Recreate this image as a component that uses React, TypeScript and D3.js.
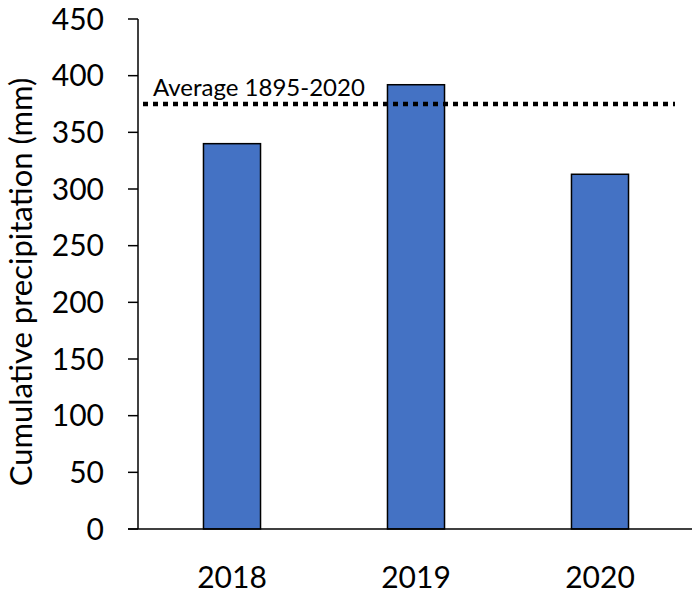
import React from 'react';
import * as d3 from 'd3';

const years = ['2018', '2019', '2020'];
const precip = [340, 392, 313];
const average = 375;
const averageLabel = 'Average 1895-2020';
const yTicks = [0, 50, 100, 150, 200, 250, 300, 350, 400, 450];

const W = 700;
const H = 593;
const font = 'Lato, "Open Sans", sans-serif';

const App = () => {
    const x = d3.scaleBand<string>()
        .domain(years)
        .range([140, 692])
        .paddingInner(0.69)
        .paddingOuter(0.345);

    const y = d3.scaleLinear()
        .domain([0, 450])
        .range([529, 19]);

    const axisX = 138;

    return (
        <svg width={W} height={H} style={{ position: 'absolute', left: 0, top: 0, background: '#fff' }}>
            {/* bars */}
            {years.map((yr, i) => (
                <rect
                    key={yr}
                    x={x(yr)}
                    y={y(precip[i])}
                    width={x.bandwidth()}
                    height={y(0) - y(precip[i])}
                    fill="#4472C4"
                    stroke="#000"
                    strokeWidth={1.5}
                />
            ))}

            {/* average line */}
            <line
                x1={axisX + 5}
                x2={675}
                y1={y(average)}
                y2={y(average)}
                stroke="#000"
                strokeWidth={4.5}
                strokeDasharray="5 5"
            />
            <text x={153} y={y(average) - 8} fontFamily={font} fontSize={24} fill="#000">
                {averageLabel}
            </text>

            {/* y axis */}
            <line x1={axisX} x2={axisX} y1={y(450)} y2={y(0)} stroke="#000" strokeWidth={1.5} />
            {yTicks.map(t => (
                <g key={t}>
                    <line x1={axisX - 10} x2={axisX} y1={y(t)} y2={y(t)} stroke="#000" strokeWidth={1.5} />
                    <text
                        x={104}
                        y={y(t)}
                        dy="0.36em"
                        textAnchor="end"
                        fontFamily={font}
                        fontSize={30}
                        fill="#000"
                    >
                        {t}
                    </text>
                </g>
            ))}

            {/* x axis */}
            <line x1={axisX - 10} x2={692} y1={y(0)} y2={y(0)} stroke="#000" strokeWidth={1.5} />
            {years.map(yr => (
                <text
                    key={yr}
                    x={(x(yr) ?? 0) + x.bandwidth() / 2}
                    y={588}
                    textAnchor="middle"
                    fontFamily={font}
                    fontSize={30}
                    fill="#000"
                >
                    {yr}
                </text>
            ))}

            {/* y axis title */}
            <text
                transform={`translate(32, ${(y(0) + y(450)) / 2 + 8}) rotate(-90)`}
                textAnchor="middle"
                fontFamily={font}
                fontSize={31}
                fill="#000"
            >
                Cumulative precipitation (mm)
            </text>
        </svg>
    );
};

export default App;
